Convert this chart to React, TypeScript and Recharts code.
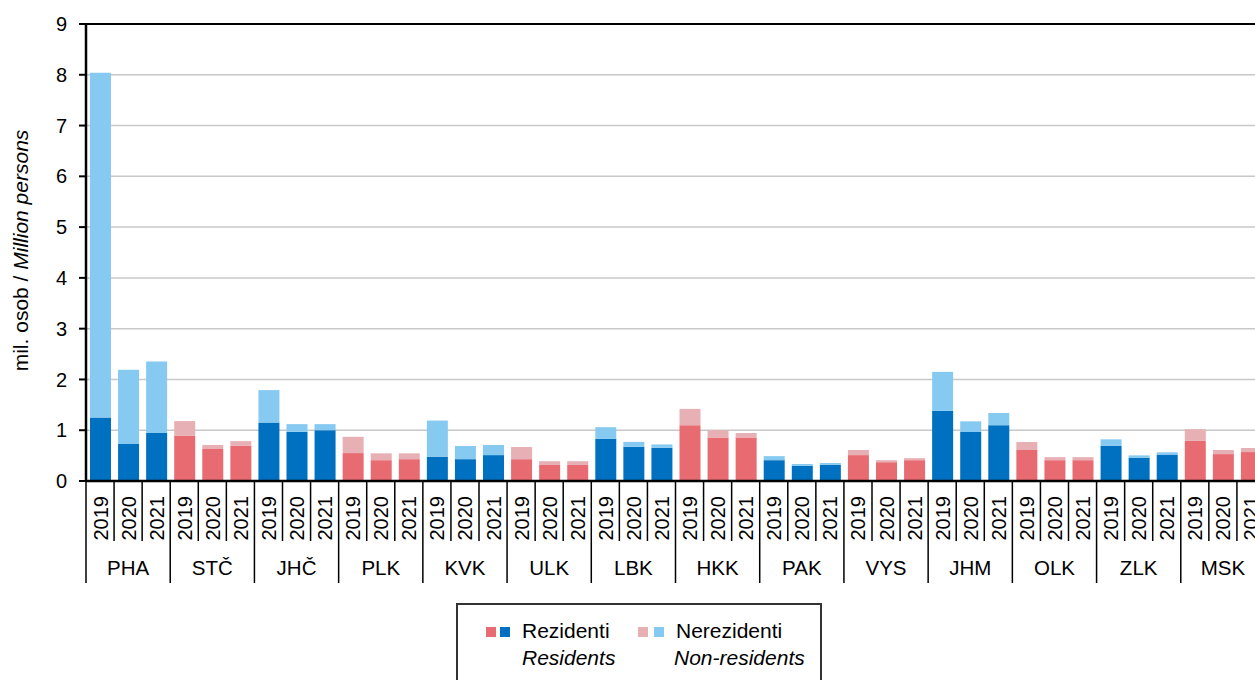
import { BarChart, Bar, Cell, XAxis, YAxis, CartesianGrid, ReferenceLine, Legend } from "recharts";

const FONT = '"Liberation Sans", Arial, sans-serif';

const regions = ["PHA", "STČ", "JHČ", "PLK", "KVK", "ULK", "LBK", "HKK", "PAK", "VYS", "JHM", "OLK", "ZLK", "MSK"];
const years = ["2019", "2020", "2021"];

// million persons, per region: 2019, 2020, 2021
const residents = [
  [1.25, 0.73, 0.945],
  [0.89, 0.63, 0.695],
  [1.15, 0.97, 1.0],
  [0.55, 0.41, 0.43],
  [0.48, 0.43, 0.51],
  [0.43, 0.315, 0.315],
  [0.83, 0.675, 0.655],
  [1.1, 0.855, 0.855],
  [0.41, 0.3, 0.32],
  [0.51, 0.37, 0.41],
  [1.38, 0.965, 1.1],
  [0.61, 0.41, 0.41],
  [0.69, 0.46, 0.52],
  [0.79, 0.53, 0.57],
];

const nonResidents = [
  [6.79, 1.46, 1.41],
  [0.29, 0.08, 0.09],
  [0.64, 0.15, 0.12],
  [0.32, 0.135, 0.115],
  [0.71, 0.26, 0.2],
  [0.24, 0.075, 0.075],
  [0.23, 0.095, 0.065],
  [0.32, 0.145, 0.09],
  [0.08, 0.035, 0.035],
  [0.1, 0.04, 0.04],
  [0.77, 0.21, 0.24],
  [0.16, 0.06, 0.06],
  [0.13, 0.045, 0.045],
  [0.23, 0.08, 0.08],
];

const yTicks = [0, 1, 2, 3, 4, 5, 6, 7, 8, 9];

const legendCz = ["Rezidenti", "Nerezidenti"];
const legendEn = ["Residents", "Non-residents"];

const BLUE_DARK = "#0070C0";
const BLUE_LIGHT = "#86CAF1";
const RED_DARK = "#E96B72";
const RED_LIGHT = "#E7B0B4";

const data = regions.flatMap((region, r) =>
  years.map((year, y) => ({
    key: `${region}-${year}`,
    region,
    year,
    group: r,
    res: residents[r][y],
    non: nonResidents[r][y],
  }))
);

function YearTick(props: any) {
  const { x, y, payload } = props;
  const i: number = payload?.index ?? props.index ?? 0;
  const row = data[i];
  if (!row) return null;
  const half = payload?.offset || 14;
  const left = x - half;
  const groupStart = i % 3 === 0;
  return (
    <g>
      <line x1={left} y1={y} x2={left} y2={y + (groupStart ? 102 : 60)} stroke="#000" strokeWidth={1.5} />
      {i === data.length - 1 && (
        <line x1={x + half} y1={y} x2={x + half} y2={y + 102} stroke="#000" strokeWidth={1.5} />
      )}
      <text
        transform={`translate(${x + 7.5},${y + 15}) rotate(-90)`}
        textAnchor="end"
        fontFamily={FONT}
        fontSize={20}
        fill="#000"
      >
        {row.year}
      </text>
      {i % 3 === 1 && (
        <text x={x} y={y + 94} textAnchor="middle" fontFamily={FONT} fontSize={20.5} fill="#000">
          {row.region}
        </text>
      )}
    </g>
  );
}

function YTitle(props: any) {
  const vb = props.viewBox || { x: 0, y: 24, width: 86, height: 457 };
  const cx = vb.x + 28;
  const cy = vb.y + vb.height / 2 - 2;
  return (
    <text
      transform={`translate(${cx},${cy}) rotate(-90)`}
      textAnchor="middle"
      fontFamily={FONT}
      fontSize={21}
      fill="#000"
    >
      <tspan>mil. osob / </tspan>
      <tspan fontStyle="italic">Million persons</tspan>
    </text>
  );
}

function LegendBox() {
  const sq = (left: number, color: string) => (
    <div style={{ position: "absolute", left, top: 22, width: 10, height: 10, background: color }} />
  );
  const txt = (left: number, top: number, text: string, italic: boolean) => (
    <div
      style={{
        position: "absolute",
        left,
        top,
        lineHeight: "20px",
        whiteSpace: "nowrap",
        fontStyle: italic ? "italic" : "normal",
      }}
    >
      {text}
    </div>
  );
  return (
    <div
      style={{
        position: "relative",
        width: 366,
        height: 110,
        border: "2px solid #333",
        boxSizing: "border-box",
        background: "#fff",
        fontFamily: FONT,
        fontSize: 21,
        color: "#000",
      }}
    >
      {sq(28, RED_DARK)}
      {sq(42, BLUE_DARK)}
      {txt(64, 16, legendCz[0], false)}
      {txt(64, 43, legendEn[0], true)}
      {sq(180, RED_LIGHT)}
      {sq(196, BLUE_LIGHT)}
      {txt(218, 16, legendCz[1], false)}
      {txt(216, 43, legendEn[1], true)}
    </div>
  );
}

export default function App() {
  return (
    <div
      style={{
        position: "absolute",
        left: 0,
        top: 0,
        width: 1255,
        height: 680,
        overflow: "hidden",
        background: "#fff",
      }}
    >
      <BarChart
        width={1275}
        height={680}
        data={data}
        margin={{ top: 24, right: 10, bottom: 79, left: 0 }}
        barSize={21}
      >
        <CartesianGrid vertical={false} stroke="#C8C8C8" strokeWidth={1.5} />
        <XAxis
          dataKey="key"
          interval={0}
          height={120}
          tickSize={0}
          tickMargin={0}
          tickLine={false}
          axisLine={{ stroke: "#000", strokeWidth: 2.5 }}
          tick={<YearTick />}
        />
        <YAxis
          width={86}
          domain={[0, 9]}
          ticks={yTicks}
          interval={0}
          tickSize={7}
          tickMargin={12}
          axisLine={{ stroke: "#000", strokeWidth: 2.5 }}
          tickLine={{ stroke: "#000", strokeWidth: 2 }}
          tick={{ fill: "#000", fontSize: 20, fontFamily: FONT }}
          label={<YTitle />}
        />
        <ReferenceLine y={9} stroke="#000" strokeWidth={2} />
        <Bar dataKey="res" stackId="a" isAnimationActive={false}>
          {data.map((d) => (
            <Cell key={d.key} fill={d.group % 2 === 0 ? BLUE_DARK : RED_DARK} />
          ))}
        </Bar>
        <Bar dataKey="non" stackId="a" isAnimationActive={false}>
          {data.map((d) => (
            <Cell key={d.key} fill={d.group % 2 === 0 ? BLUE_LIGHT : RED_LIGHT} />
          ))}
        </Bar>
        <Legend
          layout="vertical"
          align="center"
          verticalAlign="middle"
          content={<LegendBox />}
          wrapperStyle={{ left: 456, top: 603, width: 366 }}
        />
      </BarChart>
    </div>
  );
}
